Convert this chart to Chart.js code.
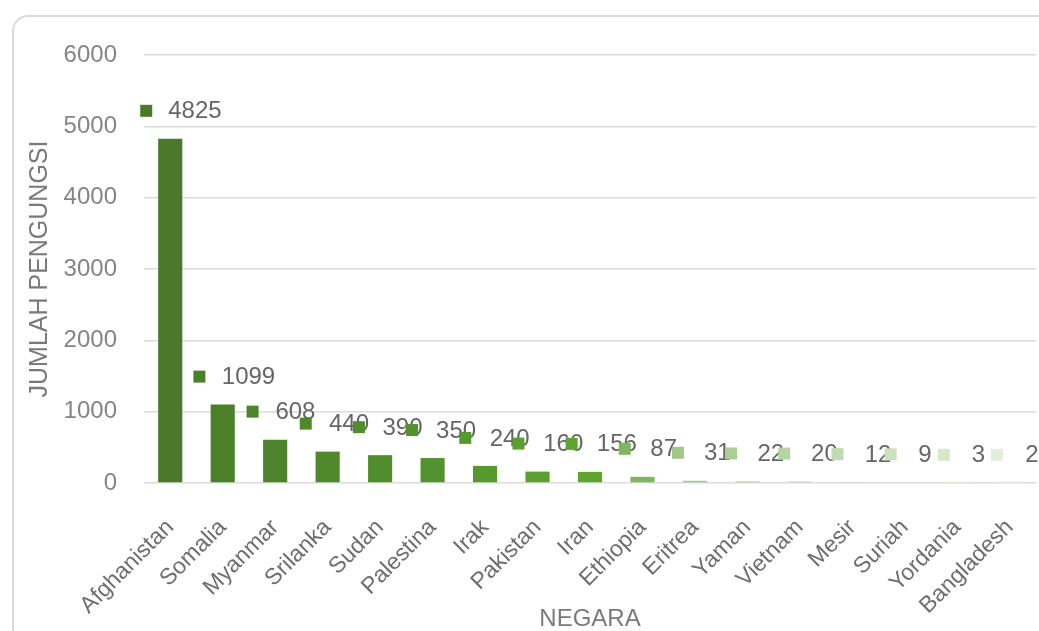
<!DOCTYPE html>
<html lang="id">
<head>
  <meta charset="UTF-8">
  <title>Jumlah Pengungsi per Negara</title>
  <script src="https://cdn.jsdelivr.net/npm/chart.js"></script>
  <style>
    body { margin: 0; background: #fff; }
    #card {
      position: absolute; left: 12px; top: 15px;
      width: 1100px; height: 700px;
      border: 2px solid #dadada; border-radius: 16px;
    }
    #refugeeChart { position: absolute; left: 0; top: 0; }
  </style>
</head>
<body>
  <div id="card"></div>
  <canvas id="refugeeChart" width="1039" height="631"></canvas>

  <script>
    const countries = ['Afghanistan', 'Somalia', 'Myanmar', 'Srilanka', 'Sudan', 'Palestina', 'Irak',
      'Pakistan', 'Iran', 'Ethiopia', 'Eritrea', 'Yaman', 'Vietnam', 'Mesir', 'Suriah', 'Yordania', 'Bangladesh'];
    const refugees = [4825, 1099, 608, 440, 390, 350, 240, 160, 156, 87, 31, 22, 20, 12, 9, 3, 2];
    const yTicks = [0, 1000, 2000, 3000, 4000, 5000, 6000];

    // dark to light green, like the Excel monochrome palette
    const stops = [[0, [74, 122, 41]], [5, [82, 147, 46]], [8, [94, 165, 48]], [10, [160, 200, 135]], [16, [226, 237, 219]]];
    function shade(i) {
      for (let k = 1; k < stops.length; k++) {
        const [i0, c0] = stops[k - 1], [i1, c1] = stops[k];
        if (i <= i1) {
          const t = (i - i0) / (i1 - i0);
          const c = c0.map((v, j) => Math.round(v + (c1[j] - v) * t));
          return `rgb(${c[0]}, ${c[1]}, ${c[2]})`;
        }
      }
    }
    const barColors = countries.map((_, i) => shade(i));

    const font = 'Liberation Sans';

    const valueLabels = {
      id: 'valueLabels',
      afterDatasetsDraw(chart) {
        const ctx = chart.ctx;
        const meta = chart.getDatasetMeta(0);
        ctx.save();
        ctx.font = `24px "${font}"`;
        ctx.textBaseline = 'middle';
        meta.data.forEach((bar, i) => {
          const y = bar.y - 28;
          const mx = bar.x - 24 + 0.7 * i;
          ctx.fillStyle = barColors[i];
          ctx.fillRect(mx - 6, y - 6, 12, 12);
          ctx.fillStyle = '#666666';
          ctx.fillText(String(refugees[i]), mx + 22 + 0.4 * i, y + 1);
        });
        ctx.restore();
      }
    };

    const ctx = document.getElementById('refugeeChart').getContext('2d');
    new Chart(ctx, {
      type: 'bar',
      data: {
        labels: countries,
        datasets: [{
          label: 'Jumlah Pengungsi',
          data: refugees,
          backgroundColor: barColors,
          barPercentage: 0.46,
          categoryPercentage: 1,
        }],
      },
      options: {
        responsive: false,
        animation: false,
        layout: { padding: { left: 28, top: 55, right: 3, bottom: 0 } },
        plugins: { legend: { display: false }, tooltip: { enabled: false } },
        scales: {
          x: {
            grid: { display: false },
            border: { display: false },
            ticks: {
              autoSkip: false, minRotation: 45, maxRotation: 45, padding: 23,
              color: '#6e6e6e', font: { family: font, size: 23 },
            },
            title: {
              display: true, text: 'NEGARA', color: '#7a7a7a',
              font: { family: font, size: 24, lineHeight: 1 }, padding: 0,
            },
            afterFit(scale) { scale.height = 148; scale.paddingLeft = 0; scale.paddingRight = 0; },
          },
          y: {
            min: 0, max: 6000,
            afterBuildTicks(scale) { scale.ticks = yTicks.map(v => ({ value: v })); },
            grid: { color: '#dcdcdc', lineWidth: 1.5, drawTicks: false },
            border: { display: false },
            ticks: {
              padding: 27, color: '#858585', font: { family: font, size: 24 },
              callback: v => String(v),
            },
            title: {
              display: true, text: 'JUMLAH PENGUNGSI', color: '#7a7a7a',
              font: { family: font, size: 25, lineHeight: 1 }, padding: 0,
            },
            afterFit(scale) { scale.width = 116; scale.paddingTop = 0; scale.paddingBottom = 0; },
          },
        },
      },
      plugins: [valueLabels],
    });
  </script>
</body>
</html>
